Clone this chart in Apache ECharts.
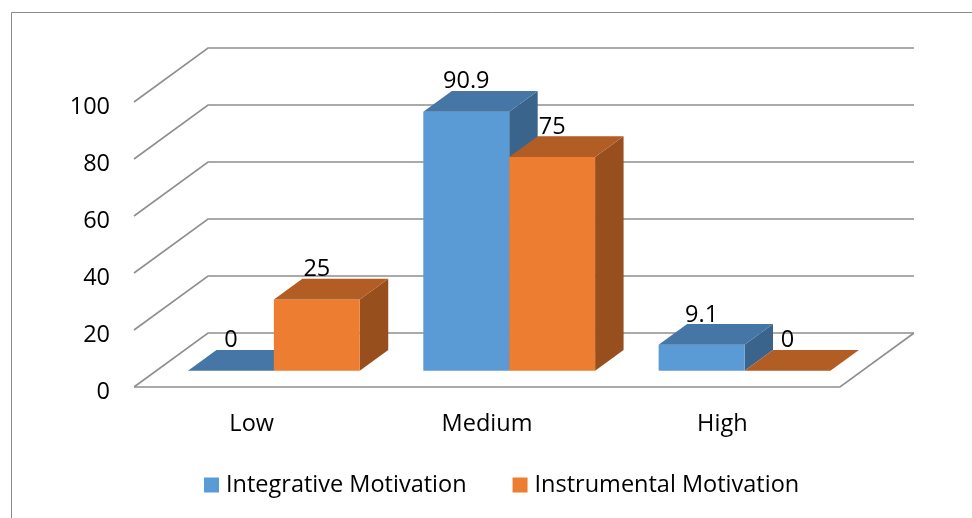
<!DOCTYPE html>
<html>
<head>
<meta charset="utf-8">
<script src="https://cdn.jsdelivr.net/npm/echarts@6/dist/echarts.min.js"></script>
<style>
  html, body { margin: 0; padding: 0; background: #fff; }
  #chart { width: 972px; height: 518px; }
</style>
</head>
<body>
<div id="chart"></div>
<script>
// Motivation levels and percentages per group
var categories = ['Low', 'Medium', 'High'];
var integrative = [0, 90.9, 9.1];
var instrumental = [25, 75, 0];
var yTicks = [0, 20, 40, 60, 80, 100];

// Projection of the depth axis (pixels for the full floor depth)
var DEPTH_X = 74, DEPTH_Y = -54;
var BAR_FRONT = 0.30;   // where the bars start along the depth
var BAR_DEPTH = 0.385;  // how deep the bars are
var BAR_WIDTH = 0.365;  // share of the category band per bar

var FONT = '"Open Sans", "DejaVu Sans", sans-serif';
var FONT_SIZE = 23.5;
var GRID_COLOR = '#8f8f8f';

var chart = echarts.init(document.getElementById('chart'), null, { renderer: 'canvas' });

// Back wall, side wall and floor lines, one per value tick
function renderWalls(params, api) {
  var cs = params.coordSys;
  var v = api.value(0);
  var y = api.coord([0, v])[1];
  var left = cs.x, right = cs.x + cs.width;
  var children = [{
    type: 'polyline',
    shape: { points: [[left, y], [left + DEPTH_X, y + DEPTH_Y], [right + DEPTH_X, y + DEPTH_Y]] },
    style: { stroke: GRID_COLOR, lineWidth: 1.6, fill: null }
  }];
  if (v === 0) {
    children.push({
      type: 'polyline',
      shape: { points: [[left, y], [right, y], [right + DEPTH_X, y + DEPTH_Y]] },
      style: { stroke: GRID_COLOR, lineWidth: 1.6, fill: null }
    });
  }
  return { type: 'group', children: children };
}

// A shaded 3D column; side = -1 draws left of the category centre, +1 right of it
function makeBarRenderer(side, colors) {
  return function (params, api) {
    var i = api.value(0), v = api.value(1);
    var top = api.coord([i, v]);
    var base = api.coord([i, 0]);
    var band = api.size([1, 0])[0];
    var w = band * BAR_WIDTH;
    var ox = DEPTH_X * BAR_FRONT, oy = DEPTH_Y * BAR_FRONT;
    var dx = DEPTH_X * BAR_DEPTH, dy = DEPTH_Y * BAR_DEPTH;
    var x0 = side < 0 ? top[0] - w + ox : top[0] + ox;
    var x1 = x0 + w;
    var yt = top[1] + oy, yb = base[1] + oy;
    var children = [];
    if (yb - yt > 0.5) {
      children.push({
        type: 'polygon',
        shape: { points: [[x1, yt], [x1 + dx, yt + dy], [x1 + dx, yb + dy], [x1, yb]] },
        style: { fill: colors.side }
      });
      children.push({
        type: 'rect',
        shape: { x: x0, y: yt, width: w, height: yb - yt },
        style: { fill: colors.front }
      });
    }
    children.push({
      type: 'polygon',
      shape: { points: [[x0, yt], [x1, yt], [x1 + dx, yt + dy], [x0 + dx, yt + dy]] },
      style: { fill: colors.top }
    });
    children.push({
      type: 'text',
      style: {
        text: String(v),
        x: (x0 + x1) / 2,
        y: yt - 30,
        align: 'center',
        verticalAlign: 'middle',
        font: FONT_SIZE + 'px ' + FONT,
        fill: '#000'
      }
    });
    return { type: 'group', children: children };
  };
}

function pairs(values) {
  return values.map(function (v, i) { return [i, v]; });
}

var blue = { front: '#5b9bd5', top: '#4676a5', side: '#3a648c' };
var orange = { front: '#ed7d31', top: '#b25d23', side: '#974f1d' };

chart.setOption({
  animation: false,
  graphic: [{
    type: 'rect',
    left: 9, top: 10,
    shape: { width: 1000, height: 540 },
    style: { fill: null, stroke: '#8a8a8a', lineWidth: 1 },
    silent: true,
    z: -10
  }],
  grid: { left: 134, top: 102, width: 706, height: 285 },
  legend: {
    left: 199,
    top: 468,
    itemWidth: 15,
    itemHeight: 15,
    itemGap: 46,
    icon: 'rect',
    textStyle: { fontSize: FONT_SIZE, fontFamily: FONT, color: '#000', padding: [0, 0, 0, 2] },
    data: ['Integrative Motivation', 'Instrumental Motivation']
  },
  xAxis: {
    type: 'category',
    data: categories,
    axisLine: { show: false },
    axisTick: { show: false },
    axisLabel: { fontSize: FONT_SIZE, fontFamily: FONT, color: '#000', margin: 25 }
  },
  yAxis: {
    type: 'value',
    min: 0, max: 100, interval: 20,
    axisLine: { show: false },
    axisTick: { show: false },
    splitLine: { show: false },
    axisLabel: {
      margin: 24,
      formatter: function (val) { return yTicks.indexOf(val) >= 0 ? '{t|' + val + '}' : ''; },
      rich: {
        t: { fontSize: FONT_SIZE, fontFamily: FONT, color: '#000', padding: [10, 0, 0, 0] }
      }
    }
  },
  series: [{
    type: 'custom',
    name: 'walls',
    data: yTicks.map(function (t) { return [t]; }),
    encode: { y: 0 },
    renderItem: renderWalls,
    silent: true
  }, {
    type: 'custom',
    name: 'Integrative Motivation',
    data: pairs(integrative),
    encode: { x: 0, y: 1 },
    itemStyle: { color: blue.front },
    renderItem: makeBarRenderer(-1, blue)
  }, {
    type: 'custom',
    name: 'Instrumental Motivation',
    data: pairs(instrumental),
    encode: { x: 0, y: 1 },
    itemStyle: { color: orange.front },
    renderItem: makeBarRenderer(1, orange)
  }]
});
</script>
</body>
</html>
